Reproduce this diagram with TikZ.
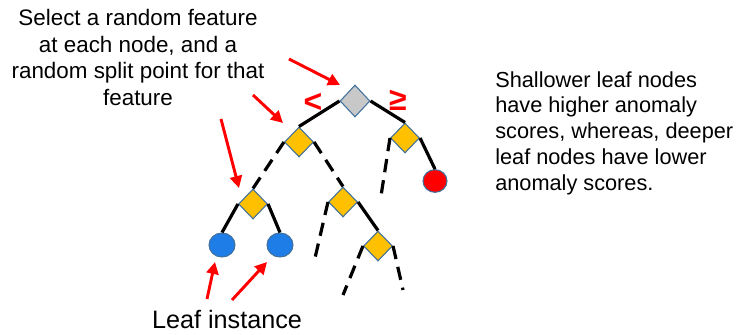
\documentclass[tikz,border=0pt]{standalone}
\usepackage{fontspec}
\setmainfont{Liberation Sans}
\usetikzlibrary{shapes.geometric,arrows.meta}

\definecolor{splitgray}{RGB}{200,200,200}
\definecolor{splityellow}{RGB}{255,192,0}
\definecolor{edgeblue}{RGB}{65,113,156}
\definecolor{leafblue}{RGB}{30,125,230}
\definecolor{hotred}{RGB}{255,0,0}

\begin{document}
\begin{tikzpicture}[x=0.75pt,y=-0.75pt,
  split/.style={diamond,draw=edgeblue,line width=0.8pt,fill=splityellow,inner sep=0pt,minimum width=21.75pt,minimum height=22.5pt},
  rootsplit/.style={split,fill=splitgray,minimum width=22.5pt,minimum height=24pt},
  leaf/.style={ellipse,draw=edgeblue,line width=0.8pt,fill=leafblue,inner sep=0pt,minimum width=19.5pt,minimum height=18pt},
  branch/.style={line width=2.4pt,black},
  partial/.style={branch,dash pattern=on 10pt off 6pt},
  pointer/.style={hotred,line width=2.2pt,-{Triangle[length=9pt,width=9pt]}},
  caption/.style={inner sep=0pt,text=black},
  sidemark/.style={inner sep=0pt,text=hotred,font=\bfseries\fontsize{24}{24}\selectfont}
]
\useasboundingbox (0,0) rectangle (745,335);

% split nodes and leaves
\node[rootsplit] (root) at (355,101) {};
\node[split] (a) at (299,142) {};
\node[split] (b) at (405,138) {};
\node[leaf,fill=hotred,minimum width=18pt,minimum height=17pt] (hot) at (435,181) {};
\node[split] (aa) at (253,204) {};
\node[split] (ab) at (343,202) {};
\node[split] (abb) at (378,246) {};
\node[leaf] (x1) at (222,245) {};
\node[leaf] (x2) at (280,245) {};

% open ends of the unfinished branches
\coordinate (bL) at (381,196);
\coordinate (abL) at (315,258);
\coordinate (abbL) at (343,295);
\coordinate (abbR) at (403,290);

% branches
\draw[branch] (root.west) -- (a.north);
\draw[branch] (root.east) -- (b.north);
\draw[branch] (b.east) -- (hot.north);
\draw[partial] (b.west) -- (bL);
\draw[partial] (a.west) -- (aa.north);
\draw[partial] (a.east) -- (ab.north);
\draw[branch] (aa.west) -- (x1.north);
\draw[branch] (aa.east) -- (x2.north);
\draw[partial] (ab.west) -- (abL);
\draw[branch] (ab.east) -- (abb.north);
\draw[partial] (abb.west) -- (abbL);
\draw[partial] (abb.east) -- (abbR);

% split direction marks
\node[sidemark] (lt) at (313,103) {<};
\node[sidemark] (ge) at (398,100) {≥};

% pointers
\coordinate (p1s) at (289,59);  \coordinate (p1e) at (340,85);
\coordinate (p2s) at (253,95);  \coordinate (p2e) at (283,123);
\coordinate (p3s) at (221,119); \coordinate (p3e) at (239,188);
\coordinate (q1s) at (207,299); \coordinate (q1e) at (215,262);
\coordinate (q2s) at (232,300); \coordinate (q2e) at (267,262);
\draw[pointer] (p1s) -- (p1e);
\draw[pointer] (p2s) -- (p2e);
\draw[pointer] (p3s) -- (p3e);
\draw[pointer] (q1s) -- (q1e);
\draw[pointer] (q2s) -- (q2e);

% captions
\node[caption,anchor=north,align=center,font=\fontsize{16.8}{19.8}\selectfont] (howto) at (138,9.5)
  {Select a random feature\\at each node, and a\\random split point for that\\feature};
\node[caption,anchor=north west,align=left,font=\fontsize{16.3}{19.4}\selectfont] (note) at (495,71)
  {Shallower leaf nodes\\have higher anomaly\\scores, whereas, deeper\\leaf nodes have lower\\anomaly scores.};
\node[caption,anchor=base,font=\fontsize{18.9}{22}\selectfont] (leafcap) at (227,328) {Leaf instance};
\end{tikzpicture}
\end{document}
